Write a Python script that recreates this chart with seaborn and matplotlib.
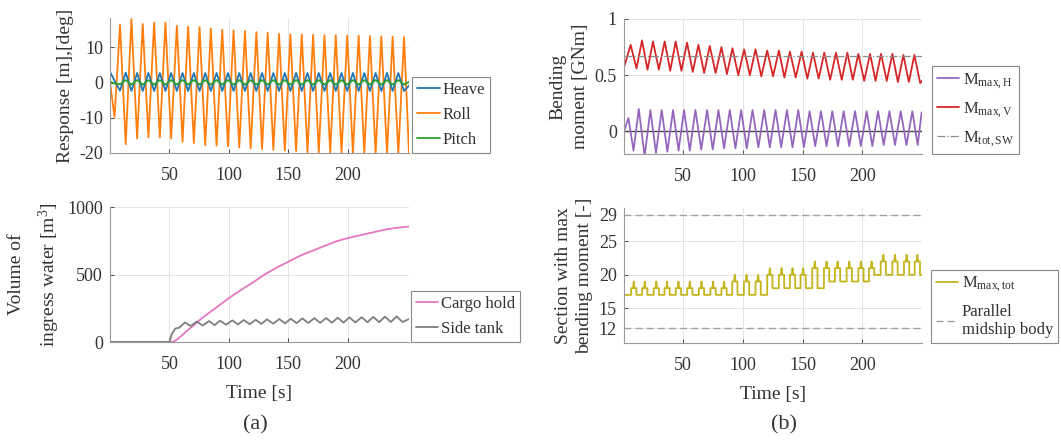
import matplotlib
matplotlib.use("Agg")
import matplotlib.pyplot as plt
import pandas as pd
import seaborn as sns

# ============================================================
# (a) top : ship motions (extremes)
# ============================================================
motion_start_t = [0.0, 3.8]
roll_start     = [0.0, -9.8]
heave_start    = [3.0, 0.5]
pitch_start    = [0.3, -0.3]

roll_peak_t   = [8.4, 18.0, 27.5, 37.1, 46.6, 56.2, 65.7, 75.3, 84.8, 94.4, 103.9, 113.5, 123.1,
                 132.6, 142.2, 151.7, 161.3, 170.8, 180.4, 189.9, 199.5, 209.1, 218.6, 228.2, 237.7, 247.3]
roll_trough_t = [13.2, 22.8, 32.3, 41.9, 51.4, 61.0, 70.5, 80.1, 89.6, 99.2, 108.7, 118.3, 127.9,
                 137.4, 147.0, 156.5, 166.1, 175.6, 185.2, 194.7, 204.3, 213.9, 223.4, 233.0, 242.5, 251.5]
roll_peak   = [16.4, 18.0, 16.6, 17.0, 17.0, 16.1, 15.9, 15.7, 15.3, 15.0, 14.8, 14.6, 14.3,
               14.1, 13.8, 13.7, 13.6, 13.5, 13.4, 13.4, 13.3, 13.3, 13.2, 13.1, 13.0, 12.9]
roll_trough = [-17.5, -15.9, -15.6, -15.6, -15.9, -16.8, -17.2, -17.8, -17.9, -18.1, -18.4, -18.7, -18.9,
               -19.1, -19.3, -19.5, -19.8, -19.8, -20.0, -20.0, -20.1, -20.1, -20.2, -20.2, -20.3, -20.3]
# heave / pitch sampled at the same instants as the roll extremes
heave_at_roll_peak   = [-2.3, -2.4, -2.4, -2.4, -2.4, -2.4, -2.4, -2.4, -2.4, -2.4, -2.4, -2.4, -2.4,
                        -2.4, -2.4, -2.4, -2.4, -2.4, -2.4, -2.4, -2.4, -2.4, -2.4, -2.4, -2.4, -2.4]
heave_at_roll_trough = [2.8, 2.7, 2.7, 2.7, 2.7, 2.7, 2.7, 2.7, 2.7, 2.7, 2.7, 2.7, 2.7,
                        2.7, 2.7, 2.7, 2.7, 2.7, 2.7, 2.7, 2.7, 2.7, 2.7, 2.7, 2.7, -0.9]
pitch_at_roll_peak   = [-0.5, -0.6, -0.6, -0.6, -0.6, -0.6, -0.6, -0.6, -0.6, -0.6, -0.6, -0.6, -0.6,
                        -0.6, -0.6, -0.6, -0.6, -0.6, -0.6, -0.6, -0.6, -0.6, -0.6, -0.6, -0.6, -0.6]
pitch_at_roll_trough = [0.7, 0.7, 0.7, 0.7, 0.7, 0.7, 0.7, 0.7, 0.7, 0.7, 0.7, 0.7, 0.7,
                        0.7, 0.7, 0.7, 0.7, 0.7, 0.7, 0.7, 0.7, 0.7, 0.7, 0.7, 0.7, 0.2]

# ============================================================
# (a) bottom : ingress water volume
# ============================================================
cargo_t = [0, 52, 55, 60, 65, 70, 75, 80, 90, 100, 110, 120, 130, 140, 150, 160, 170, 180,
           190, 200, 210, 220, 230, 240, 251.5]
cargo_v = [0, 0, 10, 45, 85, 120, 160, 195, 260, 325, 385, 440, 500, 550, 595, 640, 675, 710,
           745, 770, 790, 810, 830, 845, 855]
side_t = [0, 50, 52, 55, 58, 63.0, 68.0, 72.9, 78.0, 83.3, 88.0, 92.5, 97.6, 102.9, 107.6,
          112.4, 117.5, 122.5, 127.3, 132.0, 137.2, 142.4, 147.2, 152.0, 157.0, 161.8, 166.8,
          171.9, 176.8, 181.7, 186.6, 191.5, 196.4, 201.3, 206.5, 211.7, 216.6, 221.5, 226.4,
          231.3, 236.2, 241.1, 246.0, 251.5]
side_v = [0, 0, 60, 100, 105, 145, 118, 152, 122, 155, 125, 158, 128, 160, 130,
          163, 132, 165, 134, 168, 136, 170, 138, 172, 140, 175, 141,
          177, 142, 178, 143, 180, 144, 182, 145, 184, 146, 186, 147,
          188, 148, 190, 148, 170]

# ============================================================
# (b) top : bending moments
# ============================================================
mv_start = (0.5, 0.57)
mv_end   = (250.0, 0.45)
mv_peak_t = [6.1, 15.6, 24.8, 34.6, 43.8, 53.3, 62.8, 72.3, 82.1, 91.3, 101.1, 110.6, 120.4,
             130.2, 139.4, 149.2, 158.7, 168.2, 178.0, 187.5, 196.7, 206.5, 215.7, 225.2, 234.4, 243.6]
mv_peak = [0.77, 0.81, 0.80, 0.80, 0.80, 0.79, 0.77, 0.76, 0.75, 0.74, 0.73, 0.73, 0.72,
           0.72, 0.71, 0.71, 0.70, 0.70, 0.70, 0.70, 0.69, 0.69, 0.69, 0.69, 0.68, 0.68]
mv_trough_t = [11.0, 20.2, 29.7, 39.2, 48.6, 58.1, 67.6, 77.2, 86.7, 96.2, 105.9, 115.5, 125.3,
               134.8, 144.3, 154.0, 163.5, 173.1, 182.8, 192.1, 201.6, 211.1, 220.5, 229.8, 239.0, 248.5]
mv_trough = [0.56, 0.55, 0.55, 0.54, 0.54, 0.53, 0.52, 0.52, 0.51, 0.50, 0.50, 0.49, 0.49,
             0.48, 0.48, 0.47, 0.47, 0.46, 0.46, 0.46, 0.45, 0.45, 0.45, 0.44, 0.44, 0.43]

mh_start = (0.5, 0.0)
mh_end   = (249.7, 0.17)
mh_peak_t = [4.2, 12.9, 22.6, 32.1, 41.6, 50.8, 60.3, 70.1, 79.6, 89.1, 98.6, 108.1, 117.9,
             127.4, 136.9, 146.4, 155.9, 165.4, 174.9, 184.4, 193.9, 203.7, 213.2, 222.7, 232.2, 241.9]
mh_peak = [0.12, 0.20, 0.19, 0.19, 0.19, 0.19, 0.19, 0.19, 0.19, 0.19, 0.19, 0.19, 0.19,
           0.19, 0.19, 0.19, 0.18, 0.18, 0.18, 0.18, 0.18, 0.18, 0.18, 0.18, 0.18, 0.18]
mh_trough_t = [8.5, 17.8, 27.3, 36.8, 46.2, 55.6, 65.2, 74.8, 84.3, 93.8, 103.3, 113.0, 122.6,
               132.1, 141.6, 151.1, 160.6, 170.1, 179.6, 189.1, 198.8, 208.4, 217.9, 227.4, 237.0, 246.4]
mh_trough = [-0.17, -0.22, -0.19, -0.18, -0.17, -0.17, -0.16, -0.16, -0.15, -0.15, -0.15, -0.14, -0.14,
             -0.14, -0.14, -0.14, -0.13, -0.13, -0.13, -0.13, -0.13, -0.13, -0.12, -0.12, -0.12, -0.12]
m_tot_sw = 0.67

# ============================================================
# (b) bottom : section index with max moment (one bump per wave)
# ============================================================
sec_start = (0.55, 17)
sec_end   = (250.0, 20)
sec_spike_t = [8.7, 17.9, 27.6, 36.6, 46.1, 55.6, 65.4, 75.1, 84.3, 93.3, 103.1, 112.8, 122.6,
               132.4, 141.6, 150.5, 160.3, 170.1, 179.3, 189.1, 198.9, 207.8, 217.6, 227.4, 237.1, 246.1]
sec_lo  = [17, 17, 17, 17, 17, 17, 17, 17, 17, 17, 17, 17, 18, 18, 18, 18, 18, 19, 19, 19, 19, 20, 20, 20, 20, 20]
sec_mid = [18, 18, 18, 18, 18, 18, 18, 18, 18, 19, 19, 19, 20, 20, 20, 20, 21, 21, 21, 21, 21, 21, 22, 22, 22, 22]
sec_hi  = [19, 19, 19, 19, 19, 19, 19, 19, 19, 20, 20, 20, 21, 21, 21, 21, 22, 22, 22, 22, 22, 22, 23, 23, 23, 23]
midship_limits = [12, 29]

# ============================================================
# Style
# ============================================================
sns.set_theme(style="white")
plt.rcParams["font.family"] = ["Liberation Serif", "DejaVu Serif"]
plt.rcParams["mathtext.fontset"] = "custom"
plt.rcParams["mathtext.rm"] = "Liberation Serif"
plt.rcParams["mathtext.it"] = "Liberation Serif:italic"
plt.rcParams["axes.unicode_minus"] = False

pal = sns.color_palette("tab10")
C_BLUE, C_ORANGE, C_GREEN, C_RED, C_PURPLE = pal[0], pal[1], pal[2], pal[3], pal[4]
C_PINK, C_GRAY, C_OLIVE = pal[6], pal[7], "#c4b51c"
TXT = "#333333"
LW = 1.3


def series(t0, v0, *pairs):
    """Stack start points and (time, value) pairs into one time-sorted frame."""
    t, v = list(t0), list(v0)
    for tt, vv in pairs:
        t += list(tt)
        v += list(vv)
    return pd.DataFrame({"t": t, "v": v}).sort_values("t")


def style(ax, xlim, ylim, yticks, yticklabels=None):
    ax.set_xlim(*xlim)
    ax.set_ylim(*ylim)
    ax.set_xticks([50, 100, 150, 200])
    ax.set_yticks(yticks)
    if yticklabels is not None:
        ax.set_yticklabels(yticklabels)
    ax.grid(True, color="#e4e4e4", linewidth=0.7)
    ax.set_axisbelow(True)
    for s in ["top", "right"]:
        ax.spines[s].set_visible(False)
    for s in ["left", "bottom"]:
        ax.spines[s].set_color("#9a9a9a")
        ax.spines[s].set_linewidth(0.8)
    ax.tick_params(direction="in", length=3, width=0.6, labelsize=13,
                   colors=TXT, left=True, bottom=True)
    ax.tick_params(axis="x", pad=10)
    ax.tick_params(axis="y", pad=5)
    ax.set_xlabel("")
    ax.set_ylabel("")


def ylab(ax, text, spacing):
    ax.set_ylabel(text, fontsize=14, color=TXT, labelpad=4, linespacing=spacing)


def legend(ax, xgap, handles=None, labels=None):
    kw = dict(loc="lower left", bbox_to_anchor=(1.0 + xgap, 0.0), borderaxespad=0,
              fontsize=12, frameon=True, fancybox=False, framealpha=1,
              edgecolor="#8a8a8a", handlelength=1.35, handletextpad=0.2,
              labelspacing=0.55, borderpad=0.3, labelcolor=TXT)
    if handles is None:
        leg = ax.legend(**kw)
    else:
        leg = ax.legend(handles, labels, **kw)
    leg.get_frame().set_linewidth(0.8)


fig = plt.figure(figsize=(10.61, 4.48), dpi=100)
ax_mot = fig.add_axes([0.1037, 0.6585, 0.2818, 0.3013])
ax_vol = fig.add_axes([0.1037, 0.2366, 0.2818, 0.3013])
ax_bm  = fig.add_axes([0.5881, 0.6563, 0.2809, 0.3013])
ax_sec = fig.add_axes([0.5881, 0.2344, 0.2809, 0.3013])

lp = dict(x="t", y="v", estimator=None, sort=False, linewidth=LW)

# ---- ship motions
df_heave = series(motion_start_t, heave_start, (roll_peak_t, heave_at_roll_peak), (roll_trough_t, heave_at_roll_trough))
df_roll  = series(motion_start_t, roll_start, (roll_peak_t, roll_peak), (roll_trough_t, roll_trough))
df_pitch = series(motion_start_t, pitch_start, (roll_peak_t, pitch_at_roll_peak), (roll_trough_t, pitch_at_roll_trough))
sns.lineplot(data=df_roll, color=C_ORANGE, label="Roll", ax=ax_mot, **lp)
sns.lineplot(data=df_heave, color=C_BLUE, label="Heave", ax=ax_mot, **lp)
sns.lineplot(data=df_pitch, color=C_GREEN, label="Pitch", ax=ax_mot, **lp)
style(ax_mot, (0, 251.5), (-20, 18.3), [-20, -10, 0, 10])
ylab(ax_mot, "Response [m],[deg]", 1.2)
h, l = ax_mot.get_legend_handles_labels()
order = [l.index("Heave"), l.index("Roll"), l.index("Pitch")]
legend(ax_mot, 0.01, [h[i] for i in order], [l[i] for i in order])

# ---- ingress water
sns.lineplot(data=pd.DataFrame({"t": cargo_t, "v": cargo_v}), color=C_PINK, label="Cargo hold", ax=ax_vol, **lp)
sns.lineplot(data=pd.DataFrame({"t": side_t, "v": side_v}), color=C_GRAY, label="Side tank", ax=ax_vol, **lp)
style(ax_vol, (0, 251.5), (0, 1000), [0, 500, 1000])
ylab(ax_vol, "Volume of\ningress water [m$^3$]", 1.65)
ax_vol.set_xlabel("Time [s]", fontsize=14, color=TXT, labelpad=9)
legend(ax_vol, 0.005)

# ---- bending moments
df_mh = series([mh_start[0], mh_end[0]], [mh_start[1], mh_end[1]], (mh_peak_t, mh_peak), (mh_trough_t, mh_trough))
df_mv = series([mv_start[0], mv_end[0]], [mv_start[1], mv_end[1]], (mv_peak_t, mv_peak), (mv_trough_t, mv_trough))
ax_bm.axhline(0, color="#444444", linewidth=1.0, zorder=1)
sns.lineplot(data=df_mh, color=C_PURPLE, label=r"M$_{\mathrm{max,H}}$", ax=ax_bm, **lp)
sns.lineplot(data=df_mv, color=C_RED, label=r"M$_{\mathrm{max,V}}$", ax=ax_bm, **lp)
ax_bm.axhline(m_tot_sw, color="#8c8c8c", linewidth=0.9, linestyle="-.",
              label=r"M$_{\mathrm{tot,SW}}$")
style(ax_bm, (0.5, 250), (-0.2, 1.0), [0, 0.5, 1], ["0", "0.5", "1"])
ylab(ax_bm, "Bending\nmoment [GNm]", 1.45)
legend(ax_bm, 0.033)

# ---- section with max moment: step trace built from per-wave levels
sec_t, sec_v = [sec_start[0]], [sec_start[1]]
prev_lo = sec_start[1]
for s, lo, mid, hi in zip(sec_spike_t, sec_lo, sec_mid, sec_hi):
    sec_t += [s - 2.2, s - 2.2, s - 0.6, s, s + 0.6, s + 2.2, s + 2.2]
    sec_v += [prev_lo, mid, mid, hi, mid, mid, lo]
    prev_lo = lo
sec_t.append(sec_end[0])
sec_v.append(sec_end[1])
sns.lineplot(data=pd.DataFrame({"t": sec_t, "v": sec_v}), color=C_OLIVE,
             label=r"M$_{\mathrm{max,tot}}$", ax=ax_sec, **lp)
for k, y in enumerate(midship_limits):
    ax_sec.axhline(y, color="#a0a0a0", linewidth=1.0, linestyle=(0, (5, 3)),
                   label="Parallel\nmidship body" if k == 0 else None)
style(ax_sec, (0.5, 250), (9.8, 30), [12, 15, 20, 25, 29])
ylab(ax_sec, "Section with max\nbending moment [-]", 1.3)
ax_sec.set_xlabel("Time [s]", fontsize=14, color=TXT, labelpad=9)
legend(ax_sec, 0.03)

fig.text(0.2403, 0.051, "(a)", fontsize=16, color=TXT, ha="center", va="center")
fig.text(0.7389, 0.051, "(b)", fontsize=16, color=TXT, ha="center", va="center")

fig.savefig("out.png", dpi=100, facecolor="white")
